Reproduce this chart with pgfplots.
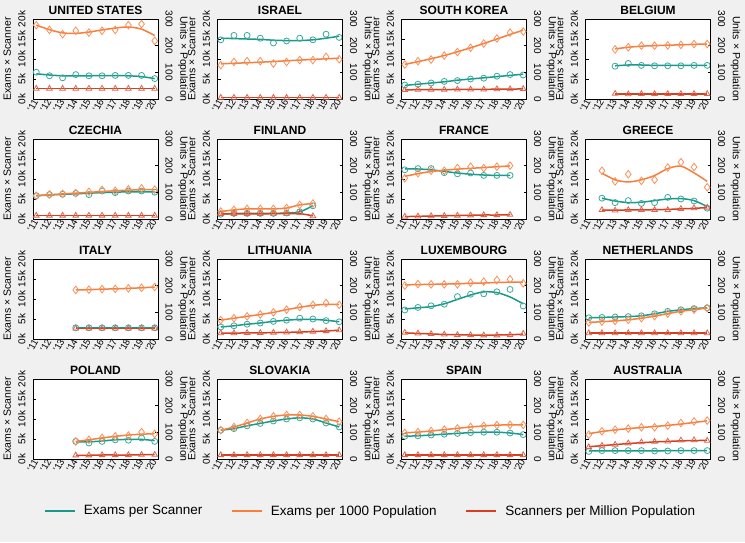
\documentclass[border=0pt]{standalone}
\usepackage{fontspec}
\setmainfont{Liberation Sans}
\usepackage{pgfplots}
\pgfplotsset{compat=1.18}
\definecolor{tealc}{RGB}{24,154,138}
\definecolor{orangec}{RGB}{247,126,60}
\definecolor{redc}{RGB}{214,64,32}
\definecolor{bgc}{RGB}{240,240,240}
\pgfplotsset{
  common/.style={scale only axis, width=125pt, height=80pt, xmin=10.75, xmax=20.25,
    tick align=inside, major tick length=3pt, tick style={black, line width=0.4pt},
    axis line style={black, line width=0.8pt}, scaled y ticks=false},
  leftax/.style={common, ymin=0, ymax=20000, ytick={0,5000,10000,15000,20000},
    yticklabels={0k,5k,10k,15k,20k}, ytick pos=left,
    xtick={11,...,20}, xticklabels={’11,’12,’13,’14,’15,’16,’17,’18,’19,’20},
    xtick pos=bottom, major x tick style={draw=none},
    xticklabel style={rotate=60, anchor=east, font=\fontsize{9.5}{9.5}\selectfont, inner sep=1pt},
    yticklabel style={rotate=90, anchor=south, font=\fontsize{10}{10}\selectfont},
    yticklabel shift=4pt,
    axis background/.style={fill=white},
    ylabel={Exams × Scanner},
    every axis y label/.style={at={(axis description cs:-0.205,0.5)}, rotate=90, anchor=center, font=\fontsize{10.5}{10.5}\selectfont},
    every axis title/.style={at={(axis description cs:0.5,1)}, anchor=base, yshift=5pt, inner sep=0pt, font=\bfseries\fontsize{12}{12}\selectfont}},
  rightax/.style={common, ymin=0, ymax=300, axis x line=none, axis y line*=right,
    ytick={0,100,200,300}, yticklabels={0,100,200,300},
    yticklabel style={rotate=-90, anchor=south, font=\fontsize{10}{10}\selectfont},
    yticklabel shift=4pt,
    ylabel={Units × Population},
    every axis y label/.style={at={(axis description cs:1.2,0.5)}, rotate=-90, anchor=center, font=\fontsize{10.5}{10.5}\selectfont}},
  tpts/.style={tealc!85!white, only marks, mark=o, mark size=3pt, mark options={line width=0.8pt}},
  opts/.style={orangec!85!white, only marks, mark=diamond, mark size=3.8pt, mark options={line width=0.8pt}},
  rpts/.style={redc!80!white, only marks, mark=triangle, mark size=3.2pt, mark options={line width=0.8pt}},
  tline/.style={tealc, smooth, line width=1.5pt, no marks},
  oline/.style={orangec, smooth, line width=1.5pt, no marks},
  rline/.style={redc, smooth, line width=1.5pt, no marks},
}
\newcommand{\ser}[4]{\addplot[#1] coordinates {#3};\addplot[#2] coordinates {#4};}
\newcommand{\panel}[5]{%
  \begin{axis}[leftax, at={(#1pt,#2pt)}, anchor=south west, title={#3}]
  #4
  \end{axis}
  \begin{axis}[rightax, at={(#1pt,#2pt)}, anchor=south west]
  #5
  \end{axis}}
\begin{document}
\begin{tikzpicture}
\fill[bgc] (0,0) rectangle (745pt,542pt);
% ---------- row 1 ----------
\panel{33}{443}{UNITED STATES}{
 \ser{tpts}{tline}{(11,6700)(12,5800)(13,5300)(14,6100)(15,5800)(16,5800)(17,5900)(18,5900)(19,5900)(20,5100)}
 {(11,6300)(12,6000)(13,5800)(14,5800)(15,5800)(16,5850)(17,5850)(18,5800)(19,5600)(20,5100)}
}{
 \ser{opts}{oline}{(11,277)(12,259)(13,243)(14,256)(15,249)(16,256)(17,259)(18,277)(19,281)(20,218)}
 {(11,277)(12,260)(13,248)(14,246)(15,251)(16,259)(17,266)(18,270)(19,262)(20,238)}
 \ser{rpts}{rline}{(11,39)(12,39)(13,39)(14,39)(15,39)(16,39)(17,39)(18,39)(19,39)(20,39)}
 {(11,39)(20,39)}
}
\panel{217.5}{443}{ISRAEL}{
 \ser{tpts}{tline}{(11,14800)(12,15900)(13,15900)(14,15200)(15,14000)(16,14500)(17,15200)(18,14800)(19,16200)(20,15400)}
 {(11,15200)(12,15100)(13,15000)(14,14900)(15,14700)(16,14600)(17,14600)(18,14800)(19,15200)(20,15700)}
}{
 \ser{opts}{oline}{(11,127)(12,139)(13,142)(14,142)(15,133)(16,139)(17,146)(18,146)(19,158)(20,149)}
 {(11,132)(14,138)(17,146)(20,153)}
 \ser{rpts}{rline}{(11,5)(12,5)(13,5)(14,5)(15,5)(16,5)(17,5)(18,5)(19,5)(20,5)}
 {(11,5)(20,5)}
}
\panel{401.5}{443}{SOUTH KOREA}{
 \ser{tpts}{tline}{(11,3500)(12,3700)(13,4000)(14,4400)(15,4600)(16,5000)(17,5200)(18,5700)(19,6100)(20,6000)}
 {(11,3400)(12,3700)(13,4000)(14,4300)(15,4700)(16,5000)(17,5300)(18,5600)(19,5900)(20,6200)}
}{
 \ser{opts}{oline}{(11,129)(12,142)(13,148)(14,163)(15,176)(16,192)(17,208)(18,227)(19,249)(20,253)}
 {(11,130)(12,140)(13,151)(14,163)(15,177)(16,192)(17,208)(18,225)(19,242)(20,258)}
 \ser{rpts}{rline}{(11,34)(12,35)(13,35)(14,35)(15,36)(16,36)(17,36)(18,37)(19,37)(20,38)}
 {(11,34)(12,35)(13,35)(14,35)(15,36)(16,36)(17,36)(18,37)(19,37)(20,38)}
}
\panel{585.5}{443}{BELGIUM}{
 \ser{tpts}{tline}{(13,8200)(14,8900)(15,8400)(16,8300)(17,8300)(18,8300)(19,8400)(20,8400)}
 {(13,8300)(14,8500)(15,8500)(16,8400)(17,8400)(18,8400)(19,8400)(20,8400)}
}{
 \ser{opts}{oline}{(13,186)(14,194)(15,200)(16,200)(17,201)(18,203)(19,206)(20,206)}
 {(13,188)(14,194)(15,198)(16,200)(17,202)(18,203)(19,205)(20,206)}
 \ser{rpts}{rline}{(13,20)(14,18)(15,19)(16,19)(17,19)(18,19)(19,19)(20,19)}
 {(13,19)(14,19)(15,19)(16,19)(17,19)(18,19)(19,19)(20,19)}
}
% ---------- row 2 ----------
\panel{33}{323}{CZECHIA}{
 \ser{tpts}{tline}{(11,5800)(12,6100)(13,6200)(14,6400)(15,6100)(16,7000)(17,6600)(18,7000)(19,7000)(20,6700)}
 {(11,5800)(12,6000)(13,6150)(14,6300)(15,6450)(16,6600)(17,6700)(18,6800)(19,6800)(20,6800)}
}{
 \ser{opts}{oline}{(11,87)(12,92)(13,94)(14,97)(15,102)(16,109)(17,106)(18,111)(19,115)(20,110)}
 {(11,88)(12,91)(13,94)(14,97)(15,100)(16,103)(17,106)(18,108)(19,110)(20,110)}
 \ser{rpts}{rline}{(11,13)(12,13)(13,13)(14,13)(15,13)(16,13)(17,13)(18,13)(19,13)(20,13)}
 {(11,13)(20,13)}
}
\panel{217.5}{323}{FINLAND}{
 \ser{tpts}{tline}{(11,1200)(12,1400)(13,1400)(14,1400)(15,1400)(16,1500)(17,1800)(18,3300)}
 {(11,1200)(12,1400)(13,1400)(14,1400)(15,1400)(16,1500)(17,1800)(18,3300)}
}{
 \ser{opts}{oline}{(11,28)(12,34)(13,38)(14,38)(15,38)(16,41)(17,53)(18,58)}
 {(11,28)(12,34)(13,38)(14,38)(15,38)(16,41)(17,53)(18,58)}
 \ser{rpts}{rline}{(11,19)(12,19)(13,19)(14,19)(15,20)(16,20)(17,23)(18,11)}
 {(11,19)(12,19)(13,19)(14,19)(15,20)(16,20)(17,20)(18,12)}
}
\panel{401.5}{323}{FRANCE}{
 \ser{tpts}{tline}{(11,12300)(12,12600)(13,12600)(14,11600)(15,11300)(16,11500)(17,10900)(18,10900)(19,10900)}
 {(11,12500)(12,12500)(13,12300)(14,11900)(15,11500)(16,11200)(17,11000)(18,10900)(19,10900)}
}{
 \ser{opts}{oline}{(11,153)(12,172)(13,181)(14,181)(15,191)(16,196)(17,191)(18,196)(19,200)}
 {(11,160)(12,170)(13,178)(14,183)(15,187)(16,190)(17,193)(18,196)(19,199)}
 \ser{rpts}{rline}{(11,9)(12,10)(13,11)(14,12)(15,13)(16,14)(17,15)(18,15)(19,16)}
 {(11,9)(12,10)(13,11)(14,12)(15,13)(16,14)(17,15)(18,15)(19,16)}
}
\panel{585.5}{323}{GREECE}{
 \ser{tpts}{tline}{(12,5200)(13,4100)(14,4600)(15,3900)(16,4100)(17,5400)(18,5000)(19,4500)(20,2700)}
 {(12,5200)(13,4500)(14,4100)(15,4200)(16,4600)(17,5000)(18,5100)(19,4600)(20,3100)}
}{
 \ser{opts}{oline}{(12,181)(13,141)(14,168)(15,143)(16,147)(17,193)(18,213)(19,195)(20,119)}
 {(12,172)(13,147)(14,139)(15,147)(16,163)(17,189)(18,198)(19,173)(20,141)}
 \ser{rpts}{rline}{(12,34)(13,32)(14,34)(15,34)(16,34)(17,34)(18,38)(19,41)(20,43)}
 {(12,33)(13,33)(14,34)(15,34)(16,35)(17,36)(18,38)(19,40)(20,43)}
}
% ---------- row 3 ----------
\panel{33}{203}{ITALY}{
 \ser{tpts}{tline}{(14,2800)(15,2800)(16,2800)(17,2800)(18,2800)(19,2800)(20,2800)}
 {(14,2800)(20,2800)}
}{
 \ser{opts}{oline}{(14,184)(15,185)(16,187)(17,188)(18,190)(19,192)(20,195)}
 {(14,184)(15,185)(16,187)(17,188)(18,190)(19,192)(20,195)}
 \ser{rpts}{rline}{(14,40)(15,40)(16,40)(17,40)(18,40)(19,40)(20,40)}
 {(14,40)(20,40)}
}
\panel{217.5}{203}{LITHUANIA}{
 \ser{tpts}{tline}{(11,3000)(12,3300)(13,3700)(14,4000)(15,4400)(16,4700)(17,5200)(18,5000)(19,4600)(20,4300)}
 {(11,3000)(12,3300)(13,3700)(14,4000)(15,4400)(16,4700)(17,4900)(18,4900)(19,4700)(20,4300)}
}{
 \ser{opts}{oline}{(11,71)(12,78)(13,85)(14,92)(15,100)(16,110)(17,120)(18,128)(19,135)(20,128)}
 {(11,71)(12,78)(13,85)(14,92)(15,100)(16,110)(17,119)(18,126)(19,130)(20,130)}
 \ser{rpts}{rline}{(11,22)(12,22)(13,23)(14,23)(15,24)(16,25)(17,26)(18,28)(19,30)(20,33)}
 {(11,22)(12,22)(13,23)(14,23)(15,24)(16,25)(17,26)(18,28)(19,30)(20,33)}
}
\panel{401.5}{203}{LUXEMBOURG}{
 \ser{tpts}{tline}{(11,7250)(12,7900)(13,8300)(14,8700)(15,10600)(16,11200)(17,11300)(18,11800)(19,12400)(20,8250)}
 {(11,7500)(12,7800)(13,8100)(14,8800)(15,9900)(16,11000)(17,11800)(18,11600)(19,10500)(20,8800)}
}{
 \ser{opts}{oline}{(11,200)(12,206)(13,205)(14,205)(15,205)(16,211)(17,215)(18,221)(19,224)(20,209)}
 {(11,203)(12,204)(13,205)(14,206)(15,207)(16,209)(17,210)(18,212)(19,213)(20,213)}
 \ser{rpts}{rline}{(11,24)(12,21)(13,19)(14,17)(15,15)(16,15)(17,14)(18,14)(19,15)(20,20)}
 {(11,23)(12,21)(13,19)(14,17)(15,16)(16,15)(17,14)(18,15)(19,16)(20,18)}
}
\panel{585.5}{203}{NETHERLANDS}{
 \ser{tpts}{tline}{(11,5300)(12,5400)(13,5500)(14,5600)(15,5800)(16,6300)(17,6900)(18,7300)(19,7600)(20,7800)}
 {(11,5300)(12,5400)(13,5500)(14,5600)(15,5800)(16,6300)(17,6900)(18,7300)(19,7600)(20,7800)}
}{
 \ser{opts}{oline}{(11,62)(12,65)(13,68)(14,72)(15,78)(16,86)(17,95)(18,104)(19,110)(20,116)}
 {(11,62)(12,65)(13,68)(14,72)(15,78)(16,86)(17,95)(18,104)(19,110)(20,116)}
 \ser{rpts}{rline}{(11,22)(12,22)(13,22)(14,22)(15,22)(16,22)(17,22)(18,22)(19,22)(20,22)}
 {(11,22)(20,22)}
}
% ---------- row 4 ----------
\panel{33}{83}{POLAND}{
 \ser{tpts}{tline}{(14,4400)(15,4000)(16,4400)(17,4800)(18,4700)(19,5250)(20,4400)}
 {(14,4300)(15,4300)(16,4500)(17,4800)(18,4900)(19,4900)(20,4600)}
}{
 \ser{opts}{oline}{(14,66)(15,72)(16,79)(17,85)(18,88)(19,101)(20,94)}
 {(14,66)(15,72)(16,79)(17,85)(18,90)(19,93)(20,95)}
 \ser{rpts}{rline}{(14,14)(15,14)(16,15)(17,15)(18,15)(19,16)(20,16)}
 {(14,14)(15,14)(16,15)(17,15)(18,15)(19,16)(20,16)}
}
\panel{217.5}{83}{SLOVAKIA}{
 \ser{tpts}{tline}{(11,7200)(12,7600)(13,8300)(14,8900)(15,9500)(16,10000)(17,10300)(18,10000)(19,9000)(20,8000)}
 {(11,7200)(12,7600)(13,8300)(14,8900)(15,9500)(16,10000)(17,10300)(18,10000)(19,9000)(20,8000)}
}{
 \ser{opts}{oline}{(11,108)(12,120)(13,135)(14,150)(15,160)(16,165)(17,165)(18,160)(19,150)(20,140)}
 {(11,108)(12,120)(13,135)(14,150)(15,160)(16,165)(17,165)(18,160)(19,150)(20,140)}
 \ser{rpts}{rline}{(11,15)(12,15)(13,15)(14,15)(15,15)(16,15)(17,15)(18,15)(19,15)(20,15)}
 {(11,15)(20,15)}
}
\panel{401.5}{83}{SPAIN}{
 \ser{tpts}{tline}{(11,5700)(12,5800)(13,6000)(14,6200)(15,6400)(16,6600)(17,6700)(18,6700)(19,6500)(20,6100)}
 {(11,5700)(12,5800)(13,6000)(14,6200)(15,6400)(16,6600)(17,6700)(18,6700)(19,6500)(20,6100)}
}{
 \ser{opts}{oline}{(11,98)(12,101)(13,105)(14,110)(15,115)(16,120)(17,124)(18,127)(19,128)(20,128)}
 {(11,98)(12,101)(13,105)(14,110)(15,115)(16,120)(17,124)(18,127)(19,128)(20,128)}
 \ser{rpts}{rline}{(11,15)(12,15)(13,15)(14,15)(15,15)(16,15)(17,15)(18,15)(19,15)(20,15)}
 {(11,15)(20,15)}
}
\panel{585.5}{83}{AUSTRALIA}{
 \ser{tpts}{tline}{(11,1900)(12,2100)(13,2100)(14,2100)(15,2100)(16,2000)(17,2000)(18,2100)(19,2100)(20,2100)}
 {(11,2000)(20,2100)}
}{
 \ser{opts}{oline}{(11,91)(12,104)(13,110)(14,114)(15,119)(16,119)(17,125)(18,135)(19,141)(20,144)}
 {(11,95)(12,103)(13,109)(14,114)(15,118)(16,122)(17,126)(18,131)(19,137)(20,143)}
 \ser{rpts}{rline}{(11,45)(12,50)(13,54)(14,59)(15,63)(16,65)(17,66)(18,70)(19,71)(20,69)}
 {(11,46)(12,50)(13,54)(14,58)(15,61)(16,64)(17,66)(18,68)(19,69)(20,70)}
}
% ---------- legend ----------
\begin{axis}[hide axis, scale only axis, at={(0pt,0pt)}, anchor=south west, width=745pt, height=62pt,
  xmin=0, xmax=1, ymin=0, ymax=1,
  legend columns=3,
  legend image code/.code={\draw[#1, line width=2.5pt] (0pt,0pt) -- (30pt,0pt);},
  legend style={at={(axis description cs:0.497,0.5)}, anchor=center, draw=none, fill=none,
    font=\fontsize{13.5}{13.5}\selectfont,
    /tikz/every odd column/.append style={column sep=6pt},
    /tikz/every even column/.append style={column sep=26pt}}]
\addlegendimage{tealc}\addlegendentry{Exams per Scanner}
\addlegendimage{orangec}\addlegendentry{Exams per 1000 Population}
\addlegendimage{redc}\addlegendentry{Scanners per Million Population}
\end{axis}
\pgfresetboundingbox
\useasboundingbox (0,0) rectangle (745pt,542pt);
\end{tikzpicture}
\end{document}
